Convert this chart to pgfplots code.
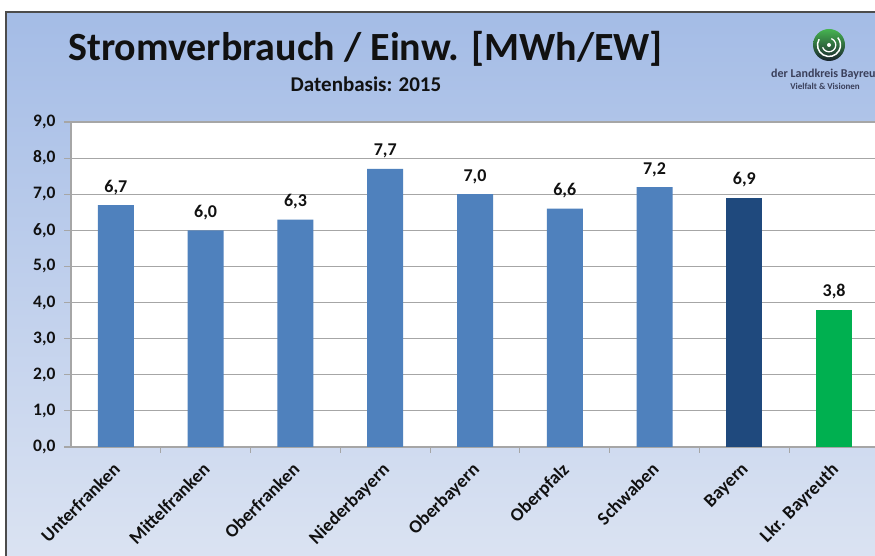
\documentclass[border=0pt]{standalone}
\usepackage{fontspec}
\setmainfont{Carlito}
\usepackage{pgfplots}
\pgfplotsset{compat=1.18}
\definecolor{barblue}{HTML}{4F81BD}
\definecolor{barnavy}{HTML}{1F497D}
\definecolor{bargreen}{HTML}{00B050}
\definecolor{bgtop}{RGB}{164,188,230}
\definecolor{bgbot}{RGB}{219,227,242}
\definecolor{txt}{HTML}{111111}
\definecolor{gridgray}{HTML}{A6A6A6}
\definecolor{logotxt}{HTML}{3A3F5A}

\begin{document}
\begin{tikzpicture}[x=1pt,y=1pt]
\path[use as bounding box] (0,0) rectangle (875,556);
\clip (0,0) rectangle (875,556);
% slide background
\fill[white] (-5,-5) rectangle (890,560);
\shade[top color=bgtop, bottom color=bgbot] (6,-5) rectangle (890,544);
\draw[gray!60!black, line width=1.5pt] (6,-5) -- (6,544) -- (890,544);

% titles
\node[anchor=base west, inner sep=0pt, text=txt] at (68,495)
  {\fontsize{40}{40}\selectfont\bfseries Stromverbrauch / Einw. [MWh/EW]};
\node[anchor=base, inner sep=0pt, text=txt] at (366,464)
  {\fontsize{21}{21}\selectfont\bfseries Datenbasis: 2015};

% logo
\shade[top color={rgb,255:red,70;green,180;blue,80},
       middle color={rgb,255:red,40;green,150;blue,170},
       bottom color={rgb,255:red,25;green,35;blue,45}] (829,511) circle (16);
\draw[white, line width=1.5pt] (829,511) ++(150:11.5) arc (150:400:11.5);
\draw[white, line width=1.3pt] (829,511) ++(200:6.8) arc (200:430:6.8);
\fill[white] (829,511) circle (2);
\node[anchor=base west, inner sep=0pt, text=logotxt] at (771,478)
  {\fontsize{12}{12}\selectfont\bfseries der Landkreis Bayreuth};
\node[anchor=base, inner sep=0pt, text=logotxt] at (825,466)
  {\fontsize{9}{9}\selectfont\bfseries Vielfalt \& Visionen};

\begin{axis}[
  at={(71pt,109pt)}, anchor=south west,
  scale only axis, width=808pt, height=325pt,
  xmin=-0.5, xmax=8.5, ymin=0, ymax=9,
  ybar, bar width=36pt,
  axis x line*=bottom, axis y line*=left,
  axis line style={gridgray, line width=1.2pt},
  axis background/.style={fill=white},
  ymajorgrids, major grid style={gridgray, line width=1.2pt},
  ytick={0,1,...,9},
  xtick={0,...,8},
  xticklabels={Unterfranken,Mittelfranken,Oberfranken,Niederbayern,Oberbayern,Oberpfalz,Schwaben,Bayern,Lkr. Bayreuth},
  minor x tick num=1,
  tick align=outside,
  major tick length=7pt,
  minor tick length=6pt,
  major x tick style={draw=none},
  minor x tick style={gridgray, line width=1.2pt},
  major y tick style={gridgray, line width=1.2pt},
  x tick label style={rotate=45, anchor=north east, font=\fontsize{18.5}{18.5}\selectfont\bfseries, text=txt, inner sep=1pt, xshift=-7pt, yshift=-1.5pt},
  y tick label style={font=\fontsize{17.5}{17.5}\selectfont\bfseries, text=txt, xshift=-5pt},
  /pgf/number format/.cd, fixed, fixed zerofill, precision=1, use comma, assume math mode=true,
  /pgfplots/.cd,
  nodes near coords,
  every node near coord/.append style={font=\fontsize{18}{18}\selectfont\bfseries, text=txt, anchor=base, inner sep=0pt, yshift=13pt},
  clip=false,
]
\addplot[fill=barblue, draw=none, bar shift=0pt] coordinates {
  (0,6.7) (1,6.0) (2,6.3) (3,7.7) (4,7.0) (5,6.6) (6,7.2)
};
\addplot[fill=barnavy, draw=none, bar shift=0pt] coordinates {(7,6.9)};
\addplot[fill=bargreen, draw=none, bar shift=0pt] coordinates {(8,3.8)};
\end{axis}
\end{tikzpicture}
\end{document}
